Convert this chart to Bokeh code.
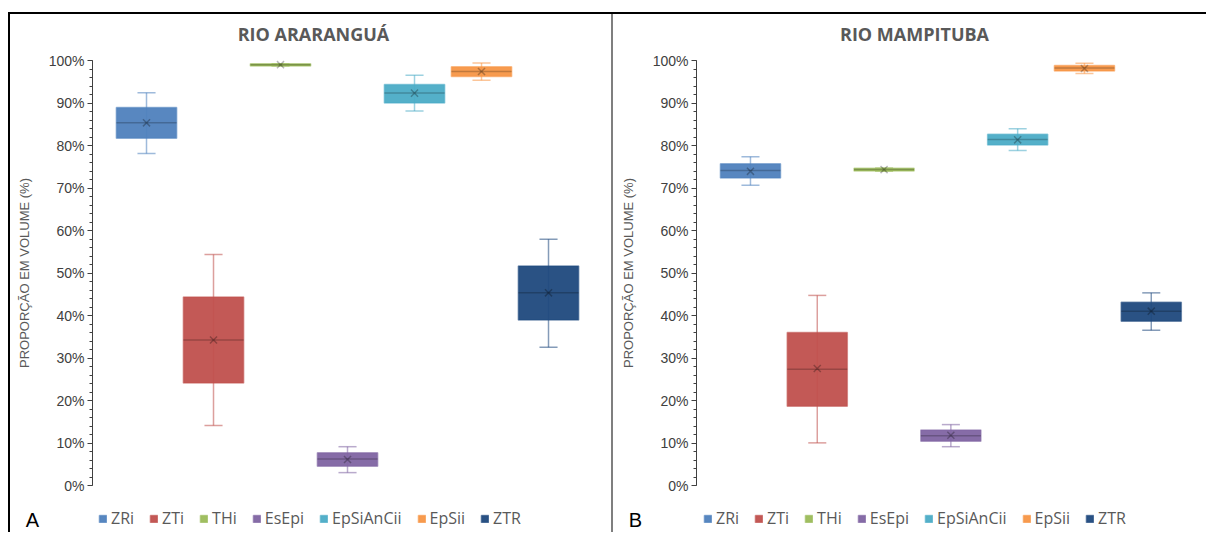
from bokeh.plotting import figure
from bokeh.models import (ColumnDataSource, Legend, LegendItem, Label, SingleIntervalTicker,
                          PrintfTickFormatter, Range1d, LinearAxis)
from bokeh.layouts import row
from bokeh.embed import file_html
from bokeh.resources import INLINE

# ---------------- data ----------------
categories = ["ZRi", "ZTi", "THi", "EsEpi", "EpSiAnCii", "EpSii", "ZTR"]
colors = ["#4F81BD", "#C0504D", "#9BBB59", "#8064A2", "#4BACC6", "#F79646", "#1F497D"]

# Panel A - Rio Araranguá (%)
a_low = [78.2, 14.2, 98.8, 3.1, 88.2, 95.4, 32.6]
a_q1 = [81.8, 24.2, 98.8, 4.6, 90.1, 96.3, 39.0]
a_median = [85.4, 34.3, 99.1, 6.3, 92.4, 97.5, 45.4]
a_q3 = [89.0, 44.4, 99.3, 7.8, 94.4, 98.6, 51.7]
a_high = [92.5, 54.4, 99.3, 9.2, 96.6, 99.5, 58.0]
a_mean = [85.4, 34.3, 99.1, 6.2, 92.4, 97.5, 45.4]

# Panel B - Rio Mampituba (%)
b_low = [70.7, 10.1, 74.0, 9.2, 78.9, 97.0, 36.6]
b_q1 = [72.4, 18.7, 74.1, 10.5, 80.2, 97.6, 38.7]
b_median = [74.2, 27.4, 74.4, 11.8, 81.5, 98.3, 41.1]
b_q3 = [75.8, 36.1, 74.7, 13.1, 82.7, 98.9, 43.2]
b_high = [77.4, 44.8, 74.8, 14.4, 84.0, 99.4, 45.4]
b_mean = [74.0, 27.6, 74.4, 11.9, 81.4, 98.2, 41.1]

titles = ["RIO ARARANGUÁ", "RIO MAMPITUBA"]
letters = ["A", "B"]
y_label = "PROPORÇÃO EM VOLUME (%)"

TEXT_GRAY = "#595959"
FIG_TOP = 14
FIG_H = 518
FRAME_BOTTOM = FIG_TOP + FIG_H  # page y of the frame's bottom edge


def make_panel(title, letter, low, q1, med, q3, high, mean, width, margin_left,
               x_start, x_end, axis_x, styles, title_x, letter_x, legend_x):
    n = len(categories)
    xs = list(range(n))
    box_w = 0.9
    cap_w = 0.27
    src = ColumnDataSource(dict(
        x=xs, cat=categories, color=colors, low=low, q1=q1, med=med, q3=q3,
        high=high, mean=mean,
        cap_l=[x - cap_w / 2 for x in xs], cap_r=[x + cap_w / 2 for x in xs],
        box_l=[x - box_w / 2 for x in xs], box_r=[x + box_w / 2 for x in xs],
    ))
    p = figure(width=width, height=FIG_H, output_backend="svg", toolbar_location=None,
               x_range=Range1d(x_start, x_end), y_range=Range1d(-10.99, 110.9),
               x_axis_location=None, y_axis_location=None,
               min_border_left=0, min_border_right=0,
               min_border_top=0, min_border_bottom=0, margin=(FIG_TOP, 0, 0, margin_left),
               styles=styles)
    p.outline_line_color = None
    p.grid.visible = False
    p.background_fill_color = "white"
    p.border_fill_color = "white"

    # whiskers
    p.segment(x0="x", y0="low", x1="x", y1="high", source=src, line_color="color",
              line_alpha=0.55, line_width=1.5)
    p.segment(x0="cap_l", y0="low", x1="cap_r", y1="low", source=src, line_color="color",
              line_alpha=0.55, line_width=1.5)
    p.segment(x0="cap_l", y0="high", x1="cap_r", y1="high", source=src, line_color="color",
              line_alpha=0.55, line_width=1.5)
    # boxes
    boxes = p.vbar(x="x", width=box_w, bottom="q1", top="q3", source=src, fill_color="color",
                   fill_alpha=0.95, line_color="color", line_alpha=0.55, line_width=1.5)
    # median
    p.segment(x0="box_l", y0="med", x1="box_r", y1="med", source=src, line_color="black",
              line_alpha=0.22, line_width=1.5)
    # mean
    p.scatter(x="x", y="mean", source=src, marker="x", size=10, line_color="black",
              line_alpha=0.28, line_width=1.5)

    ax = LinearAxis(fixed_location=axis_x, bounds=(0, 100))
    ax.ticker = SingleIntervalTicker(interval=10, num_minor_ticks=5)
    ax.formatter = PrintfTickFormatter(format="%d%%")
    ax.axis_label = y_label
    ax.axis_label_text_font = "Liberation Sans"
    ax.axis_label_text_font_size = "13px"
    ax.axis_label_text_font_style = "normal"
    ax.axis_label_text_color = TEXT_GRAY
    ax.axis_label_standoff = 14
    ax.major_label_text_font = "Liberation Sans"
    ax.major_label_text_font_size = "14px"
    ax.major_label_text_color = "#404040"
    ax.major_label_standoff = 3
    ax.axis_line_color = "#404040"
    ax.major_tick_line_color = "#404040"
    ax.minor_tick_line_color = "#404040"
    ax.major_tick_out = 5
    ax.major_tick_in = 0
    ax.minor_tick_out = 3
    ax.minor_tick_in = 0
    p.add_layout(ax, "left")

    p.add_layout(Label(x=title_x, y=FRAME_BOTTOM - 33, x_units="screen", y_units="screen",
                       text=title, text_align="center", text_baseline="middle",
                       text_font="Open Sans", text_font_style="bold", text_font_size="18px",
                       text_color=TEXT_GRAY))
    p.add_layout(Label(x=letter_x, y=FRAME_BOTTOM - 519, x_units="screen", y_units="screen",
                       text=letter, text_align="center", text_baseline="middle",
                       text_font="Liberation Sans", text_font_size="20px", text_color="black"))

    legend = Legend(items=[LegendItem(label=c, renderers=[boxes], index=i)
                           for i, c in enumerate(categories)],
                    orientation="horizontal", location=(legend_x, 3),
                    glyph_width=9, glyph_height=9, label_standoff=4, spacing=15,
                    padding=4, margin=0, label_text_font="Open Sans",
                    label_text_font_size="16px", label_text_color=TEXT_GRAY,
                    border_line_color=None, background_fill_alpha=0)
    p.add_layout(legend, "center")
    return p


left = make_panel(titles[0], letters[0], a_low, a_q1, a_median, a_q3, a_high, a_mean,
                  width=603, margin_left=10, x_start=-2.030, x_end=6.970, axis_x=-0.806,
                  styles={"box-shadow": "0 -2px 0 0 #000, -2px 0 0 0 #000, -2px -2px 0 0 #000"},
                  title_x=303, letter_x=22, legend_x=88)
right = make_panel(titles[1], letters[1], b_low, b_q1, b_median, b_q3, b_high, b_mean,
                   width=593, margin_left=0, x_start=-2.0505, x_end=6.827, axis_x=-0.808,
                   styles={"box-shadow": "0 -2px 0 0 #000, -2px 0 0 0 #7f7f7f"},
                   title_x=301, letter_x=22, legend_x=90)

layout = row(left, right)
open("out.html", "w").write(file_html(layout, INLINE))
